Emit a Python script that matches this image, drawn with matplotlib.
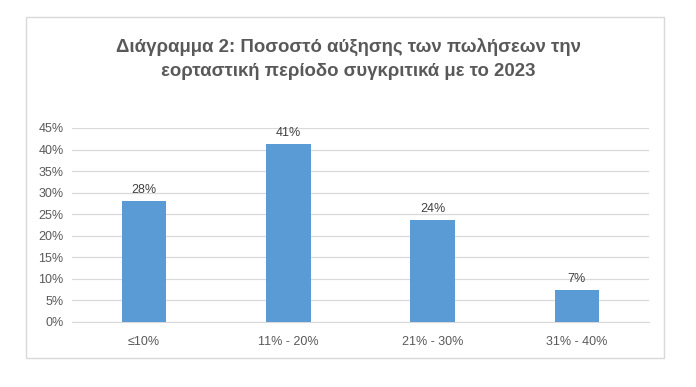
import matplotlib.pyplot as plt
from matplotlib.patches import Rectangle
from matplotlib.ticker import FuncFormatter

categories = ["≤10%", "11% - 20%", "21% - 30%", "31% - 40%"]
values = [28.0, 41.2, 23.6, 7.4]
labels = ["28%", "41%", "24%", "7%"]

plt.rcParams['font.family'] = ['Liberation Sans', 'DejaVu Sans']

grey = '#595959'

fig = plt.figure(figsize=(6.96, 3.87), dpi=100)

# outer chart border
fig.patches.append(Rectangle((26/696, 1 - 358/387), 638/696, 341/387,
                             transform=fig.transFigure, fill=False,
                             edgecolor='#d9d9d9', linewidth=1))

ax = fig.add_axes([72/696, 1 - 322/387, 577/696, 194/387])

x = range(len(categories))
ax.bar(x, values, width=0.31, color='#5b9bd5', zorder=3)

for i, v in enumerate(values):
    ax.text(i, v + 1.2, labels[i], ha='center', va='bottom', fontsize=9, color='#404040')

ax.set_ylim(0, 45)
ax.set_xlim(-0.5, 3.5)
ax.set_yticks(range(0, 50, 5))
ax.yaxis.set_major_formatter(FuncFormatter(lambda v, p: f"{int(v)}%"))
ax.set_xticks(list(x))
ax.set_xticklabels(categories)
ax.tick_params(axis='both', length=0, labelsize=9, labelcolor=grey)
ax.tick_params(axis='x', pad=10)
ax.tick_params(axis='y', pad=6)

ax.grid(axis='y', color='#d9d9d9', linewidth=0.9, zorder=0)
for s in ['top', 'right', 'left']:
    ax.spines[s].set_visible(False)
ax.spines['bottom'].set_color('#d9d9d9')

fig.text(0.5, 1 - 59/387, "Διάγραμμα 2: Ποσοστό αύξησης των πωλήσεων την\nεορταστική περίοδο συγκριτικά με το 2023",
         ha='center', va='center', fontsize=13.4, fontweight='bold', color=grey, linespacing=1.6)

plt.savefig("out.png", dpi=100)
